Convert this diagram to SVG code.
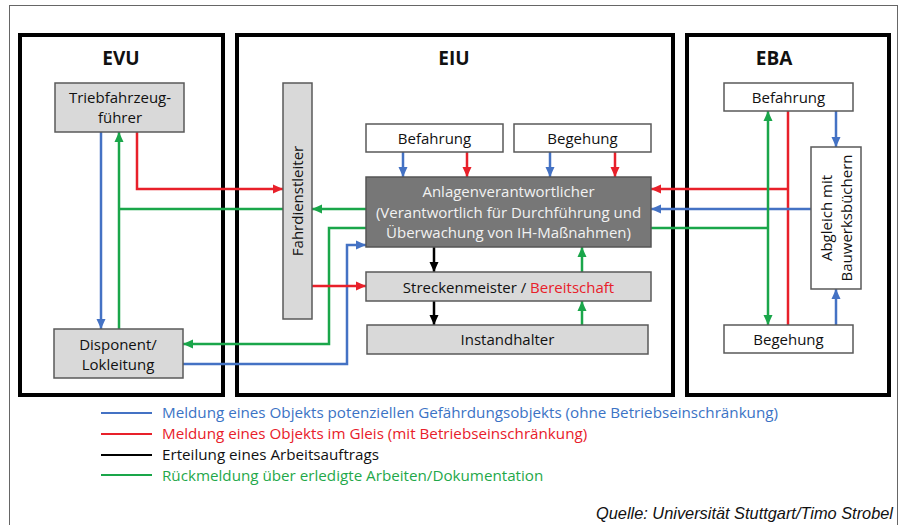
<svg xmlns="http://www.w3.org/2000/svg" width="904" height="525" viewBox="0 0 904 525">
<defs>
<marker id="ab" markerUnits="userSpaceOnUse" markerWidth="10" markerHeight="10" refX="10" refY="5" orient="auto-start-reverse" viewBox="0 0 10 10"><path d="M0,0.5 L10,5 L0,9.5 z" fill="#4472C4"/></marker>
<marker id="ar" markerUnits="userSpaceOnUse" markerWidth="10" markerHeight="10" refX="10" refY="5" orient="auto-start-reverse" viewBox="0 0 10 10"><path d="M0,0.5 L10,5 L0,9.5 z" fill="#E8202A"/></marker>
<marker id="ag" markerUnits="userSpaceOnUse" markerWidth="10" markerHeight="10" refX="10" refY="5" orient="auto-start-reverse" viewBox="0 0 10 10"><path d="M0,0.5 L10,5 L0,9.5 z" fill="#1AA64A"/></marker>
<marker id="ak" markerUnits="userSpaceOnUse" markerWidth="10" markerHeight="10" refX="10" refY="5" orient="auto-start-reverse" viewBox="0 0 10 10"><path d="M0,0.5 L10,5 L0,9.5 z" fill="#000"/></marker>
</defs>
<style>
text{font-family:"Open Sans","Noto Sans",sans-serif;font-size:15px;fill:#111;}
.title{font-weight:bold;font-size:19px;text-anchor:middle;}
.c{text-anchor:middle;}
.frame{fill:none;stroke:#000;stroke-width:4;}
.gray{fill:#d9d9d9;stroke:#595959;stroke-width:1.5;}
.white{fill:#fff;stroke:#595959;stroke-width:1.5;}
.dark{fill:#777;stroke:#555;stroke-width:1.5;}
.dt{fill:#f2f2f2;}
.l{fill:none;stroke-width:2.5;}
.b{stroke:#4472C4;} .r{stroke:#E8202A;} .g{stroke:#1AA64A;} .k{stroke:#000;}
.leg{font-size:15.2px;}
</style>
<rect width="904" height="525" fill="#fff"/>
<rect x="9.5" y="5.5" width="888" height="540" fill="none" stroke="#666" stroke-width="1"/>

<g id="evu">
<rect class="frame" x="20" y="35" width="203" height="360"/>
<text class="title" x="121" y="65">EVU</text>
</g>
<g id="eiu">
<rect class="frame" x="237" y="35" width="436" height="360"/>
<text class="title" x="454" y="65">EIU</text>
</g>
<g id="eba">
<rect class="frame" x="687" y="35" width="202" height="360"/>
<text class="title" x="774" y="65">EBA</text>
</g>

<g id="connectors">
<path class="l b" d="M101,132 V329" marker-end="url(#ab)"/>
<path class="l g" d="M119,329 V132" marker-end="url(#ag)"/>
<path class="l r" d="M137,132 V189 H283" marker-end="url(#ar)"/>
<path class="l g" d="M366,209 H312" marker-end="url(#ag)"/>
<path class="l g" d="M283,209 H119"/>
<path class="l g" d="M366,228 H329 V344 H183" marker-end="url(#ag)"/>
<path class="l b" d="M183,364 H347 V245 H366" marker-end="url(#ab)"/>
<path class="l r" d="M312,286 H366" marker-end="url(#ar)"/>
<path class="l b" d="M403,152 V177" marker-end="url(#ab)"/>
<path class="l r" d="M467,152 V177" marker-end="url(#ar)"/>
<path class="l b" d="M550,152 V177" marker-end="url(#ab)"/>
<path class="l r" d="M615,152 V177" marker-end="url(#ar)"/>
<path class="l k" d="M434,247 V272" marker-end="url(#ak)"/>
<path class="l k" d="M434,301 V325" marker-end="url(#ak)"/>
<path class="l g" d="M582,325 V301" marker-end="url(#ag)"/>
<path class="l g" d="M582,272 V247" marker-end="url(#ag)"/>
<path class="l r" d="M788,111 V325"/>
<path class="l r" d="M788,189 H651" marker-end="url(#ar)"/>
<path class="l b" d="M811,209 H651" marker-end="url(#ab)"/>
<path class="l g" d="M768,111 V325" marker-start="url(#ag)" marker-end="url(#ag)"/>
<path class="l g" d="M768,228 H651"/>
<path class="l b" d="M836,111 V147" marker-end="url(#ab)"/>
<path class="l b" d="M836,325 V289" marker-end="url(#ab)"/>
</g>

<g id="tfz">
<rect class="gray" x="55" y="83" width="129" height="49"/>
<text class="c" x="120" y="103">Triebfahrzeug-</text>
<text class="c" x="120" y="123">führer</text>
</g>
<g id="disponent">
<rect class="gray" x="54" y="329" width="129" height="49"/>
<text class="c" x="118" y="350">Disponent/</text>
<text class="c" x="118" y="370">Lokleitung</text>
</g>
<g id="fahrdienstleiter">
<rect class="gray" x="283" y="83" width="29" height="236"/>
<text class="c" transform="translate(303,201) rotate(-90)">Fahrdienstleiter</text>
</g>
<g id="eiu-befahrung">
<rect class="white" x="366" y="124" width="137" height="28"/>
<text class="c" x="434.5" y="144">Befahrung</text>
</g>
<g id="eiu-begehung">
<rect class="white" x="514" y="124" width="137" height="28"/>
<text class="c" x="582.5" y="144">Begehung</text>
</g>
<g id="anlagen">
<rect class="dark" x="366" y="177" width="285" height="70"/>
<text class="c dt" x="508.5" y="197">Anlagenverantwortlicher</text>
<text class="c dt" x="508.5" y="217.5">(Verantwortlich für Durchführung und</text>
<text class="c dt" x="508.5" y="238">Überwachung von IH-Maßnahmen)</text>
</g>
<g id="streckenmeister">
<rect class="gray" x="366" y="272" width="285" height="29"/>
<text class="c" x="508.5" y="293">Streckenmeister / <tspan fill="#E8202A">Bereitschaft</tspan></text>
</g>
<g id="instandhalter">
<rect class="gray" x="367" y="325" width="281" height="29"/>
<text class="c" x="507.5" y="345">Instandhalter</text>
</g>
<g id="eba-befahrung">
<rect class="white" x="724" y="83" width="129" height="28"/>
<text class="c" x="788.5" y="103">Befahrung</text>
</g>
<g id="abgleich">
<rect class="white" x="811" y="147" width="50" height="142"/>
<text class="c" transform="translate(832,218) rotate(-90)">Abgleich mit</text>
<text class="c" transform="translate(852,218) rotate(-90)">Bauwerksbüchern</text>
</g>
<g id="eba-begehung">
<rect class="white" x="724" y="325" width="129" height="28"/>
<text class="c" x="788.5" y="345">Begehung</text>
</g>

<g id="legend">
<line x1="101" y1="413" x2="152" y2="413" stroke="#4472C4" stroke-width="2"/>
<line x1="101" y1="434" x2="152" y2="434" stroke="#E8202A" stroke-width="2"/>
<line x1="101" y1="455" x2="152" y2="455" stroke="#000" stroke-width="2"/>
<line x1="101" y1="475" x2="152" y2="475" stroke="#1AA64A" stroke-width="2"/>
<text class="leg" x="162" y="418" style="fill:#3B73C5">Meldung eines Objekts potenziellen Gefährdungsobjekts (ohne Betriebseinschränkung)</text>
<text class="leg" x="162" y="439" style="fill:#E8202A">Meldung eines Objekts im Gleis (mit Betriebseinschränkung)</text>
<text class="leg" x="162" y="460">Erteilung eines Arbeitsauftrags</text>
<text class="leg" x="162" y="481" style="fill:#1FA84A">Rückmeldung über erledigte Arbeiten/Dokumentation</text>
<text x="596" y="519" textLength="297" lengthAdjust="spacingAndGlyphs" style="font-family:'Liberation Sans',Arial,sans-serif;font-style:italic;font-size:17px;fill:#111">Quelle: Universität Stuttgart/Timo Strobel</text>
</g>
</svg>
